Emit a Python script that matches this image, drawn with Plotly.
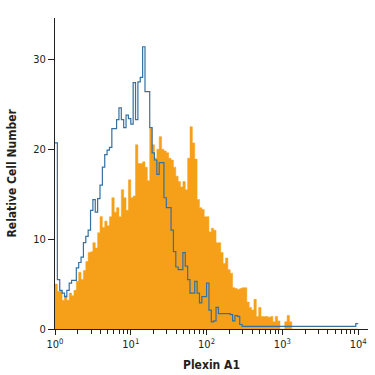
import numpy as np
import plotly.graph_objects as go

# log10 bin edges: 128 channels over 4 decades
n_bins = 128
log_min, log_max = 0.0, 4.0

# Plexin A1 stained (orange, filled)
plexin = [
    5.0, 4.2, 4.2, 3.2, 3.7, 3.2, 4.0, 3.7, 4.3, 5.3,
    6.3, 5.5, 6.5, 7.5, 8.5, 8.6, 9.6, 9.0, 10.7, 12.5,
    11.3, 12.0, 11.5, 12.5, 14.6, 13.0, 13.5, 12.5, 15.5, 14.6,
    13.2, 16.6, 14.6, 14.8, 20.5, 18.4, 18.4, 18.6, 18.0, 16.5,
    22.3, 20.5, 19.0, 20.0, 21.4, 20.0, 19.8, 19.6, 19.0, 18.8,
    18.0, 17.0, 16.4, 15.8, 16.4, 15.5, 19.0, 22.5, 20.7, 18.9,
    14.4, 13.5, 13.3, 12.5, 12.5, 10.8, 11.2, 11.0, 9.6, 9.6,
    8.5, 7.3, 7.9, 6.6, 6.2, 4.6, 4.5, 4.4, 4.5, 4.6,
    4.6, 3.0, 2.4, 2.1, 3.3, 1.4, 2.4, 1.4, 1.4, 1.4,
    1.3, 1.4, 0.8, 1.4, 0.9, 0.0, 0.0, 0.8, 1.5, 0.8,
    0.0, 0.0, 0.0, 0.0, 0.0, 0.0, 0.0, 0.0, 0.0, 0.0,
    0.0, 0.0, 0.0, 0.0, 0.0, 0.0, 0.0, 0.0, 0.0, 0.0,
    0.0, 0.0, 0.0, 0.0, 0.0, 0.0, 0.0, 0.0,
]

# isotype control (blue outline)
control = [
    20.7, 5.5, 4.3, 4.0, 3.6, 4.3, 5.1, 5.4, 5.4, 6.8,
    7.4, 8.0, 9.6, 10.3, 11.0, 13.2, 14.4, 13.0, 14.5, 16.0,
    18.0, 19.4, 19.9, 20.2, 22.3, 22.3, 23.3, 24.6, 23.3, 22.4,
    23.8, 23.4, 22.8, 27.4, 23.3, 27.5, 28.0, 31.4, 26.4, 26.4,
    22.4, 19.6, 18.8, 17.2, 18.5, 18.5, 14.6, 13.5, 13.5, 11.0,
    8.6, 6.9, 6.6, 6.6, 8.5, 7.0, 5.5, 4.0, 4.0, 5.3,
    4.0, 2.9, 3.6, 3.6, 5.1, 2.1, 0.8, 0.9, 2.4, 1.7,
    1.7, 1.7, 1.7, 1.7, 1.6, 0.9, 1.5, 1.4, 0.5, 0.3,
    0.3, 0.3, 0.3, 0.3, 0.3, 0.3, 0.3, 0.3, 0.3, 0.3,
    0.3, 0.3, 0.3, 0.3, 0.3, 0.3, 0.3, 0.3, 0.3, 0.3,
    0.3, 0.3, 0.3, 0.3, 0.3, 0.3, 0.3, 0.3, 0.3, 0.3,
    0.3, 0.3, 0.3, 0.3, 0.3, 0.3, 0.3, 0.3, 0.3, 0.3,
    0.3, 0.3, 0.3, 0.3, 0.3, 0.3, 0.3, 0.6,
]

y_ticks = [0, 10, 20, 30]
decades = [0, 1, 2, 3, 4]
x_title = "Plexin A1"
y_title = "Relative Cell Number"

edges = np.linspace(log_min, log_max, n_bins + 1)
x_edges = 10 ** edges

def steps(vals):
    return list(vals) + [vals[-1]]

FONT = "DejaVu Sans Condensed, Roboto, sans-serif"
TXT = "#231f20"

fig = go.Figure()
fig.add_trace(go.Scatter(
    x=x_edges, y=steps(plexin), mode="lines", line_shape="hv",
    line=dict(color="#f6a01a", width=0.5), fill="tozeroy",
    fillcolor="#f6a01a", hoverinfo="skip", showlegend=False,
))
fig.add_trace(go.Scatter(
    x=x_edges, y=steps(control), mode="lines", line_shape="hv",
    line=dict(color="#3570a3", width=1.2), hoverinfo="skip", showlegend=False,
))

major_vals = [10 ** d for d in decades]
major_text = [f"10<sup>{d}</sup>" for d in decades]
minor_vals = [m * 10 ** d for d in decades[:-1] for m in range(2, 10)]

fig.update_layout(
    width=375, height=375,
    margin=dict(l=55, r=7, t=18, b=46),
    paper_bgcolor="white", plot_bgcolor="white",
    font=dict(family=FONT, color=TXT, size=11),
    xaxis=dict(
        type="log", range=[0, 4.13], tickmode="array",
        tickvals=major_vals, ticktext=major_text,
        ticks="outside", ticklen=5, tickcolor=TXT, showline=True,
        linecolor=TXT, linewidth=1, showgrid=False, zeroline=False,
        automargin=False,
        minor=dict(tickmode="array", tickvals=minor_vals, ticks="outside",
                   ticklen=4, tickcolor=TXT, showgrid=False),
        tickfont=dict(size=11, family=FONT, color=TXT),
    ),
    yaxis=dict(
        range=[0, 34.6], tickmode="array", tickvals=y_ticks,
        ticks="outside", ticklen=6,
        tickcolor=TXT, showline=True, linecolor=TXT, linewidth=1,
        showgrid=False, zeroline=False, automargin=False,
        tickfont=dict(size=11, family=FONT, color=TXT),
    ),
    annotations=[
        dict(text=x_title, xref="paper", yref="paper", x=0.5, y=0,
             yshift=-36, xanchor="center", yanchor="middle", showarrow=False,
             font=dict(size=12, family=FONT, color=TXT, weight="bold")),
        dict(text=y_title, xref="paper", yref="paper", x=0, y=0.5,
             xshift=-44, xanchor="center", yanchor="middle", showarrow=False,
             textangle=-90,
             font=dict(size=12, family=FONT, color=TXT, weight="bold")),
    ],
)

fig.write_html(
    "out.html",
    config={"displayModeBar": False, "staticPlot": True},
    post_script="document.body.style.margin='0';document.body.style.padding='0';",
)
